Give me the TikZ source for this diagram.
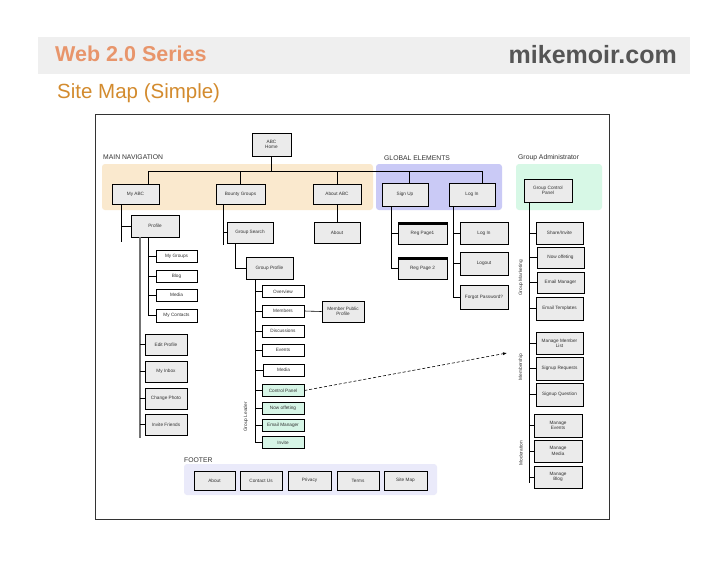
\documentclass[tikz,border=0pt]{standalone}
\usepackage{fontspec}
\setmainfont{Liberation Sans}
\usetikzlibrary{shadows,arrows.meta}
\definecolor{hdrgray}{HTML}{EFEFEF}
\definecolor{webor}{HTML}{E8956B}
\definecolor{siteor}{HTML}{D38B2E}
\definecolor{mikegray}{HTML}{555555}
\definecolor{bandor}{HTML}{FAE9CE}
\definecolor{bandbl}{HTML}{CACAF6}
\definecolor{bandgr}{HTML}{D7F8E6}
\definecolor{bandft}{HTML}{EAEAFA}
\definecolor{boxgray}{HTML}{EBEBEB}
\definecolor{boxgreen}{HTML}{D6F5E6}
\definecolor{lbl}{HTML}{333333}
\tikzset{
  base/.style={draw=black, line width=0.65pt, inner sep=0pt, align=center,
    text=black!80, font=\fontsize{4.7}{5.3}\selectfont,
    drop shadow={shadow xshift=0.8pt,shadow yshift=-0.8pt,fill=black!35,opacity=0.6}},
  gbox/.style={base, fill=boxgray},
  leaf/.style={base, fill=white},
  grbox/.style={base, fill=boxgreen},
  band/.style={rounded corners=3pt, draw=none},
  sect/.style={anchor=west, inner sep=0pt, text=lbl, font=\fontsize{6.8}{7}\selectfont},
  side/.style={rotate=90, inner sep=0pt, text=lbl, font=\fontsize{4.8}{5}\selectfont},
  tree/.style={draw=black, line width=0.6pt},
}
\newcommand{\bx}[6]{\node[#1, minimum width=#4pt, minimum height=#5pt] (#2) at (#3) {#6};}
\begin{document}
\begin{tikzpicture}[x=1pt,y=-1pt]
\useasboundingbox (0,0) rectangle (728,563);
\fill[white] (0,0) rectangle (728,563);
% header
\fill[hdrgray] (38,37) rectangle (690,74);
\node[anchor=west, inner sep=0pt, text=webor, font=\bfseries\fontsize{21.5}{23}\selectfont] (ttl) at (55,53.5) {Web 2.0 Series};
\node[anchor=east, inner sep=0pt, text=mikegray, font=\bfseries\fontsize{25}{27}\selectfont] (mike) at (677,55) {mikemoir.com};
\node[anchor=west, inner sep=0pt, text=siteor, font=\fontsize{20.5}{22}\selectfont] (sub) at (57,93) {Site Map (Simple)};
% frame
\draw[line width=0.7pt, draw=black!80] (95,114) rectangle (609,519);
% bands
\fill[band, bandor] (102,164) rectangle (373,210);
\fill[band, bandbl] (376,164) rectangle (502,210);
\fill[band, bandgr] (516,164) rectangle (602,210);
\fill[band, bandft] (184,464) rectangle (437,495);
\node[sect] (lmain) at (103,157) {MAIN NAVIGATION};
\node[sect] (lglob) at (384,158) {GLOBAL ELEMENTS};
\node[sect] (ladm) at (518,158) {Group Administrator};
\node[sect] (lfoot) at (184,460) {FOOTER};
% coordinates for trunks
\coordinate (busL) at (148,171);
\coordinate (busR) at (482,171);
\coordinate (myT) at (121,242);
\coordinate (prG) at (140,438);
\coordinate (prB) at (148,0);
\coordinate (bgT) at (223,245);
\coordinate (gsX) at (235,0);
\coordinate (gpT) at (255,443);
\coordinate (suX) at (391,0);
\coordinate (liX) at (453,0);
\coordinate (gcT) at (529,483);
\coordinate (arrEnd) at (507,353);
% top level lines (drawn first)
\draw[tree] (busL) -- (busR);
\draw[tree] (271.5,156) -- (271.5,171);
\draw[tree] (busL) -- (148,184);
\draw[tree] (240.5,171) -- (240.5,184);
\draw[tree] (337,171) -- (337,184);
\draw[tree] (409,171) -- (409,183);
\draw[tree] (busR) -- (482,183);
% boxes
\bx{gbox}{home}{271.5,144.5}{39}{23}{ABC\\Home}
\bx{gbox}{myabc}{135.5,194}{47}{20}{My ABC}
\bx{gbox}{bounty}{240.5,194}{49}{20}{Bounty Groups}
\bx{gbox}{aboutabc}{337,194}{48}{20}{About ABC}
\bx{gbox}{signup}{405,194.5}{46}{23}{Sign Up}
\bx{gbox}{login}{472,194.5}{46}{23}{Log In}
\bx{gbox}{gcp}{548,190.5}{48}{23}{Group Control\\Panel}
% My ABC subtree
\bx{gbox}{profile}{155,226}{48}{22}{Profile}
\bx{leaf}{mygroups}{176.5,256}{41}{12}{My Groups}
\bx{leaf}{blog}{176.5,276}{41}{12}{Blog}
\bx{leaf}{media1}{176.5,295}{41}{12}{Media}
\bx{leaf}{mycont}{176.5,315.5}{41}{13}{My Contacts}
\bx{gbox}{editp}{166,344.5}{42}{21}{Edit Profile}
\bx{gbox}{inbox}{166,371.5}{42}{21}{My Inbox}
\bx{gbox}{photo}{166,398.5}{42}{21}{Change Photo}
\bx{gbox}{invf}{166,424.5}{42}{21}{Invite Friends}
% Bounty subtree
\bx{gbox}{gsearch}{250,232.5}{46}{21}{Group Search}
\bx{gbox}{about}{337,232.5}{46}{21}{About}
\bx{gbox}{gprofile}{269.5,268}{47}{22}{Group Profile}
\bx{leaf}{overview}{283,291.5}{42}{11.5}{Overview}
\bx{leaf}{members}{283,311}{42}{12}{Members}
\bx{gbox}{mpp}{343,311.5}{42}{21}{Member Public\\Profile}
\bx{leaf}{discuss}{283,331}{42}{12}{Discussions}
\bx{leaf}{events}{283,350}{42}{12}{Events}
\bx{leaf}{media2}{283.5,370}{41}{12}{Media}
\bx{grbox}{cpanel}{283,390.5}{42}{11.5}{Control Panel}
\bx{grbox}{nowoff1}{283,408}{42}{12}{Now offeting}
\bx{grbox}{emailm1}{283,425}{42}{12}{Email Manager}
\bx{grbox}{invite2}{283,442.5}{42}{11.5}{Invite}
% Global subtree
\bx{gbox}{reg1}{422.5,233}{49}{22}{Reg Page1}
\bx{gbox}{reg2}{422.5,268}{49}{22}{Reg Page 2}
\fill (reg1.north west) rectangle ([yshift=-3pt]reg1.north east);
\fill (reg2.north west) rectangle ([yshift=-3pt]reg2.north east);
\bx{gbox}{login2}{484,233}{48}{22}{Log In}
\bx{gbox}{logout}{484,263.5}{48}{23}{Logout}
\bx{gbox}{forgot}{484,297}{48}{24}{Forgot Password?}
% Admin subtree
\bx{gbox}{share}{559.5,233}{47}{22}{Share/Invite}
\bx{gbox}{nowoff2}{560.5,257.5}{47}{21}{Now offeting}
\bx{gbox}{emailm2}{560.5,282.5}{47}{21}{Email Manager}
\bx{gbox}{emailt}{559.5,308.5}{47}{23}{Email Templates}
\bx{gbox}{mml}{559.5,343}{47}{22}{Manage Member\\List}
\bx{gbox}{sreq}{559.5,368.5}{47}{23}{Signup Requests}
\bx{gbox}{sq}{559.5,394.5}{47}{23}{Signup Question}
\bx{gbox}{mev}{558,425.5}{48}{23}{Manage\\Events}
\bx{gbox}{mmed}{558,451}{48}{22}{Manage\\Media}
\bx{gbox}{mblog}{558,477}{48}{22}{Manage\\Blog}
% Footer
\bx{gbox}{fabout}{214.5,480.5}{41}{19}{About}
\bx{gbox}{fcontact}{261,480.5}{42}{19}{Contact Us}
\bx{gbox}{fprivacy}{309.5,480.5}{43}{19}{Privacy}
\bx{gbox}{fterms}{358,480.5}{42}{19}{Terms}
\bx{gbox}{fsitemap}{405.5,480.5}{43}{19}{Site Map}
% side labels
\node[side] (lgl) at (246,417) {Group Leader};
\node[side] (lgm) at (521,278) {Group Marketing};
\node[side] (lms) at (521,367) {Membership};
\node[side] (lmd) at (521,453) {Moderation};
% tree lines
\draw[tree] (myabc.south -| myT) -- (myT);
\draw[tree] (profile.west -| myT) -- (profile.west);
\draw[draw=black!55, line width=1.3pt] (profile.south -| prG) -- (prG);
\foreach \n in {editp,inbox,photo,invf} \draw[tree] (\n.west -| prG) -- (\n.west);
\draw[tree] (profile.south -| prB) |- (mycont.west);
\foreach \n in {mygroups,blog,media1} \draw[tree] (\n.west -| prB) -- (\n.west);
\draw[tree] (bounty.south -| bgT) -- (bgT);
\draw[tree] (gsearch.west -| bgT) -- (gsearch.west);
\draw[tree] (gsearch.south -| gsX) |- (gprofile.west);
\draw[tree] (gprofile.south -| gpT) -- (gpT);
\foreach \n in {overview,members,discuss,events,media2,cpanel,nowoff1,emailm1,invite2} \draw[tree] (\n.west -| gpT) -- (\n.west);
\draw[tree] (members.east) -- (mpp.west);
\draw[tree] (aboutabc.south) -- (about.north);
\draw[tree] (signup.south -| suX) |- (reg2.west);
\draw[tree] (reg1.west -| suX) -- (reg1.west);
\draw[tree] (login.south -| liX) |- (forgot.west);
\foreach \n in {login2,logout} \draw[tree] (\n.west -| liX) -- (\n.west);
\draw[tree] (gcp.south -| gcT) -- (gcT);
\foreach \n in {share,nowoff2,emailm2,emailt,mml,sreq,sq,mev,mmed,mblog} \draw[tree] (\n.west -| gcT) -- (\n.west);
% dashed link
\draw[dashed, line width=0.6pt, dash pattern=on 3pt off 2pt, -{Latex[length=4pt,width=3pt]}] (cpanel.east) -- (arrEnd);
\end{tikzpicture}
\end{document}
